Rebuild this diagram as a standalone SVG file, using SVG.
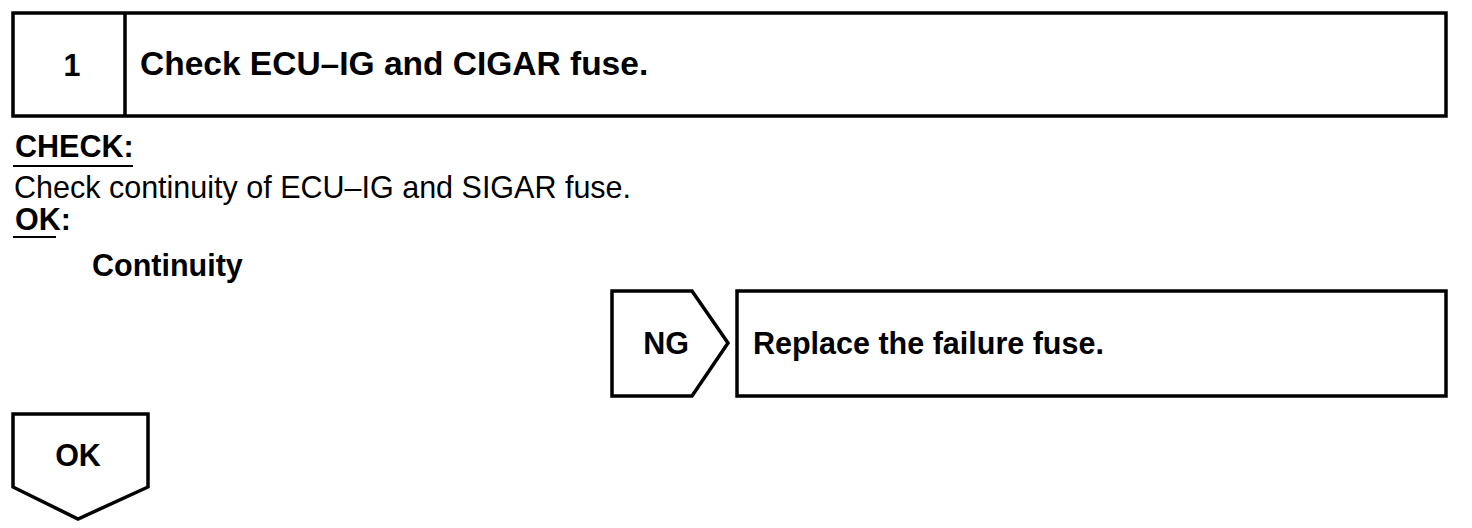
<svg xmlns="http://www.w3.org/2000/svg" width="1472" height="528" viewBox="0 0 1472 528">
<style>
.box{fill:#fff;stroke:#000;stroke-width:3.5}
.b{font-family:"Liberation Sans",Arial,sans-serif;font-weight:bold;font-size:30.5px;fill:#000}
.r{font-family:"Liberation Sans",Arial,sans-serif;font-size:30.5px;fill:#000}
.ul{stroke:#000;stroke-width:2}
</style>
<rect width="1472" height="528" fill="#fff"/>
<g id="step1">
<rect class="box" x="13" y="13" width="1433" height="103"/>
<line x1="125" y1="13" x2="125" y2="116" stroke="#000" stroke-width="3.5"/>
<text class="b" x="72" y="76" text-anchor="middle">1</text>
<text class="b" x="140" y="75" style="font-size:33.5px">Check ECU–IG and CIGAR fuse.</text>
</g>
<g id="check">
<text class="b" x="15" y="157">CHECK:</text>
<line class="ul" x1="13" y1="166" x2="133" y2="166"/>
<text class="r" x="14" y="198">Check continuity of ECU–IG and SIGAR fuse.</text>
<text class="b" x="15" y="230">OK:</text>
<line class="ul" x1="13" y1="237" x2="56" y2="237"/>
<text class="b" x="92" y="276">Continuity</text>
</g>
<g id="ng">
<polygon class="box" points="612,291 692,291 728,343 692,396 612,396"/>
<text class="b" x="666" y="354" text-anchor="middle">NG</text>
</g>
<g id="replace">
<rect class="box" x="737" y="291" width="709" height="105"/>
<text class="b" x="753" y="354">Replace the failure fuse.</text>
</g>
<g id="ok">
<polygon class="box" points="13,414 148,414 148,487 78,519 13,487"/>
<text class="b" x="78" y="466" text-anchor="middle">OK</text>
</g>
<g id="connectors"></g>
</svg>
